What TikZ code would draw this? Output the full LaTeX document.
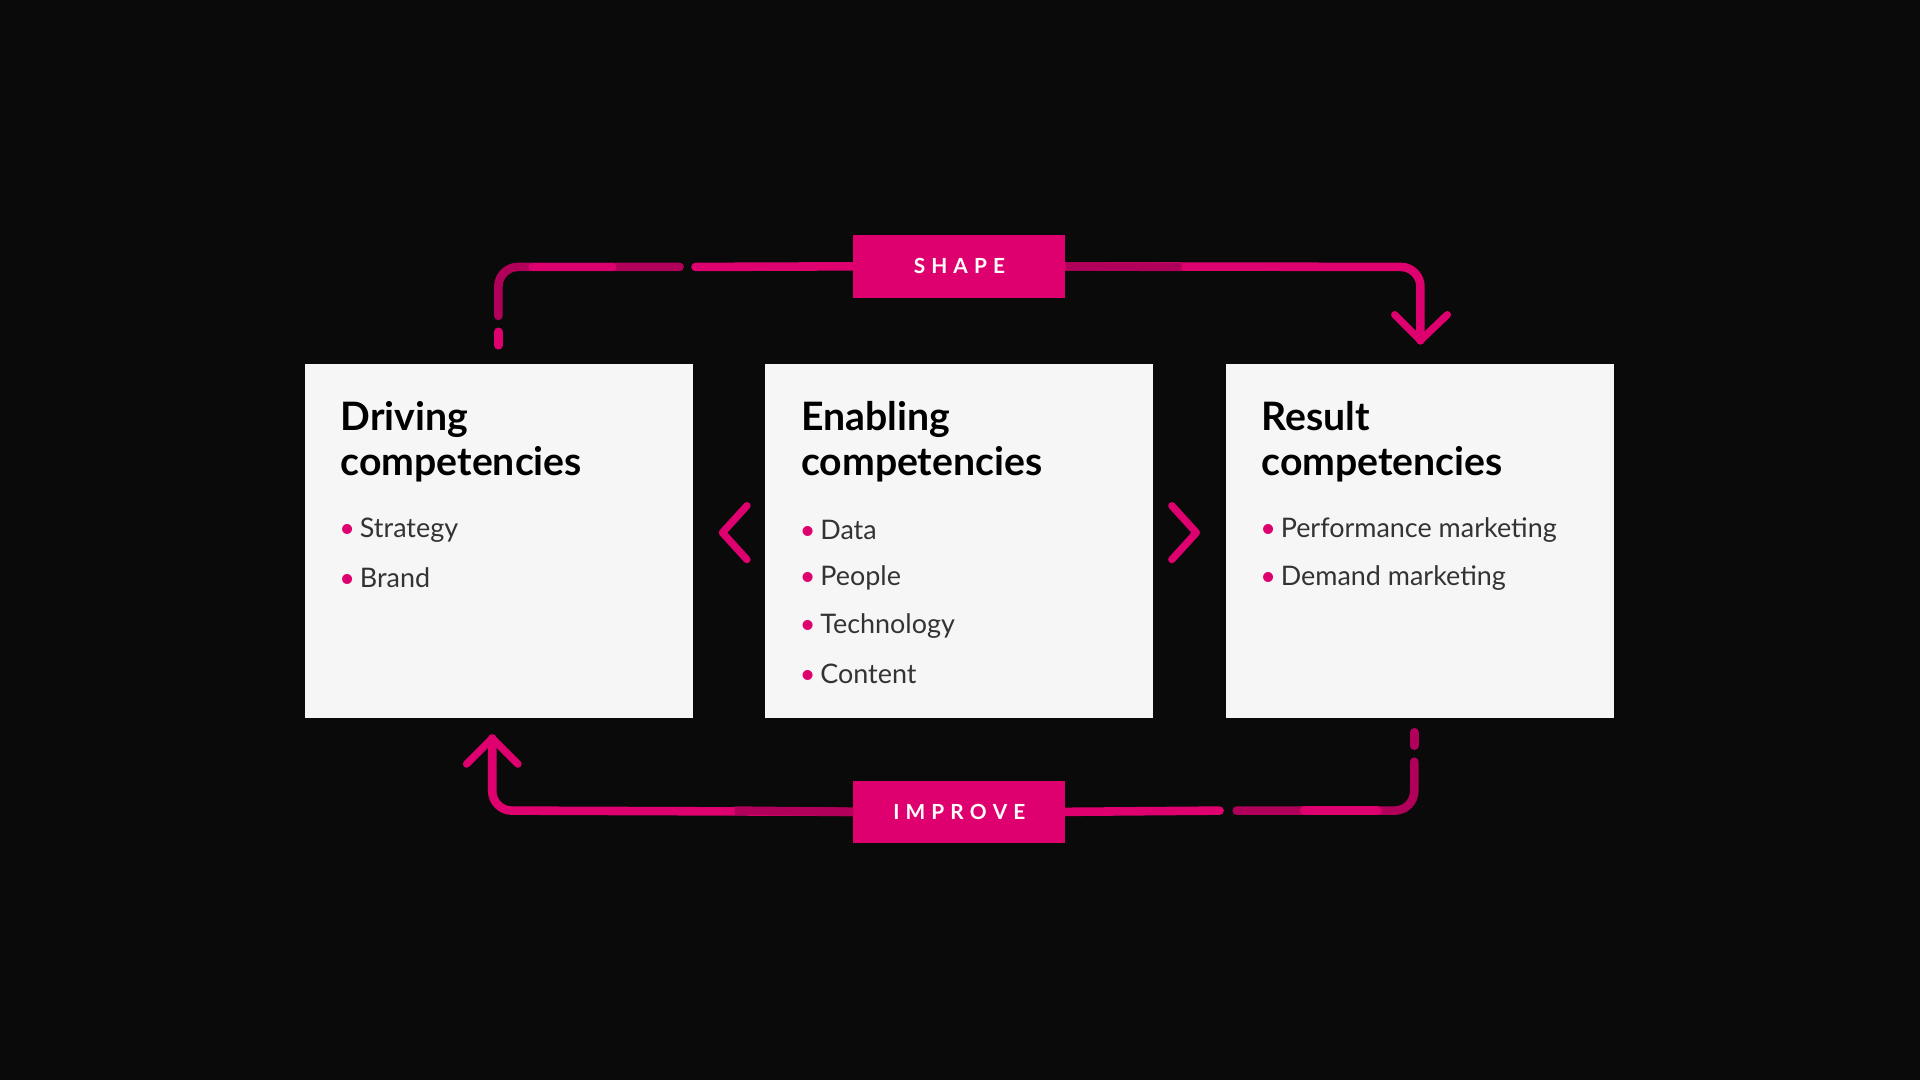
\documentclass[tikz,border=0pt]{standalone}
\usepackage{fontspec}
\setmainfont{Lato}
\begin{document}
\begin{tikzpicture}[x=1pt,y=-1pt,
  box/.style={fill=boxc,draw=none,minimum width=317pt,minimum height=289pt,inner sep=0},
  tag/.style={fill=mag,draw=none,minimum width=173pt,minimum height=51pt,inner sep=0,text=white,font=\bfseries\fontsize{17}{20}\selectfont},
  ttl/.style={anchor=north west,align=left,font=\bfseries\fontsize{32}{36}\selectfont,text=black,inner sep=0},
  itm/.style={anchor=west,inner sep=0,font=\fontsize{22}{26}\selectfont,text=txt},
  ln/.style={line width=7pt,line cap=round,mag},
  dk/.style={line width=7pt,line cap=butt,magd},
  chev/.style={line width=6pt,line cap=round,line join=round,mag}]
\definecolor{bg}{HTML}{0A0A0A}
\definecolor{boxc}{HTML}{F6F6F6}
\definecolor{mag}{HTML}{DE006E}
\definecolor{magd}{HTML}{B0005A}
\definecolor{txt}{HTML}{333333}
\fill[bg] (0,0) rectangle (1568,882);
\useasboundingbox (0,0) rectangle (1568,882);
\newcommand{\bul}[3]{\node[itm] (#1) at (#2) {\textcolor{mag}{\textbullet}\hspace{4pt}#3};}
% boxes
\node[box] (drv) at (407.5,441.5) {};
\node[box] (enb) at (783.5,441.5) {};
\node[box] (res) at (1159.5,441.5) {};
\node[ttl] (t1) at (278,328) {Driving\\competencies};
\node[ttl] (t2) at (654,328) {Enabling\\competencies};
\node[ttl] (t3) at (1030,328) {Result\\competencies};
\bul{a1}{277,433}{Strategy}
\bul{a2}{277,472}{Brand}
\bul{b1}{653,433}{Data}
\bul{b2}{653,472}{People}
\bul{b3}{653,511}{Technology}
\bul{b4}{653,550}{Content}
\bul{c1}{1029,433}{Performance marketing}
\bul{c2}{1029,472}{Demand marketing}
% tags
\node[tag] (shape) at (783.5,217.5) {S\hspace{5pt}H\hspace{5pt}A\hspace{5pt}P\hspace{5pt}E};
\node[tag] (improve) at (783.5,663) {I\hspace{5pt}M\hspace{5pt}P\hspace{5pt}R\hspace{5pt}O\hspace{5pt}V\hspace{5pt}E};
% top connector
\coordinate (s0) at (407,282);
\coordinate (s1) at (407,271);
\coordinate (s2) at (407,258);
\coordinate (s3) at (555,218);
\coordinate (s4) at (568,218);
\coordinate (e1) at (1160,278);
\draw[ln] (s0)--(s1);
\draw[ln,magd] (s2)--(407,234) arc[start angle=180,end angle=270,radius=16] -- (s3);
\draw[ln] (435,218)--(500,218);
\draw[ln] (s4)--(shape.west);
\draw[ln] (shape.east)--(1144,218) arc[start angle=270,end angle=360,radius=16] -- (e1);
\draw[dk] (shape.east)--(965,218);
\draw[chev] (1139,257)--(e1)--(1182,257);
% bottom connector
\coordinate (r0) at (1155,598);
\coordinate (r1) at (1155,609);
\coordinate (r2) at (1155,622);
\coordinate (r3) at (1010,662);
\coordinate (r4) at (996,662);
\coordinate (d1) at (402,603);
\draw[ln,magd] (r0)--(r1);
\draw[ln,magd] (r2)--(1155,646) arc[start angle=0,end angle=90,radius=16] -- (r3);
\draw[ln] (1065,662)--(1125,662);
\draw[ln] (r4)--(improve.east);
\draw[ln] (improve.west)--(418,662) arc[start angle=90,end angle=180,radius=16] -- (d1);
\draw[dk] (improve.west)--(600,662);
\draw[chev] (381,624)--(d1)--(423,624);
% chevrons between boxes
\coordinate (l1) at (610,413);
\coordinate (l2) at (590,435);
\coordinate (l3) at (610,457);
\draw[chev] (l1)--(l2)--(l3);
\coordinate (m1) at (957,413);
\coordinate (m2) at (977,435);
\coordinate (m3) at (957,457);
\draw[chev] (m1)--(m2)--(m3);
\end{tikzpicture}
\end{document}
